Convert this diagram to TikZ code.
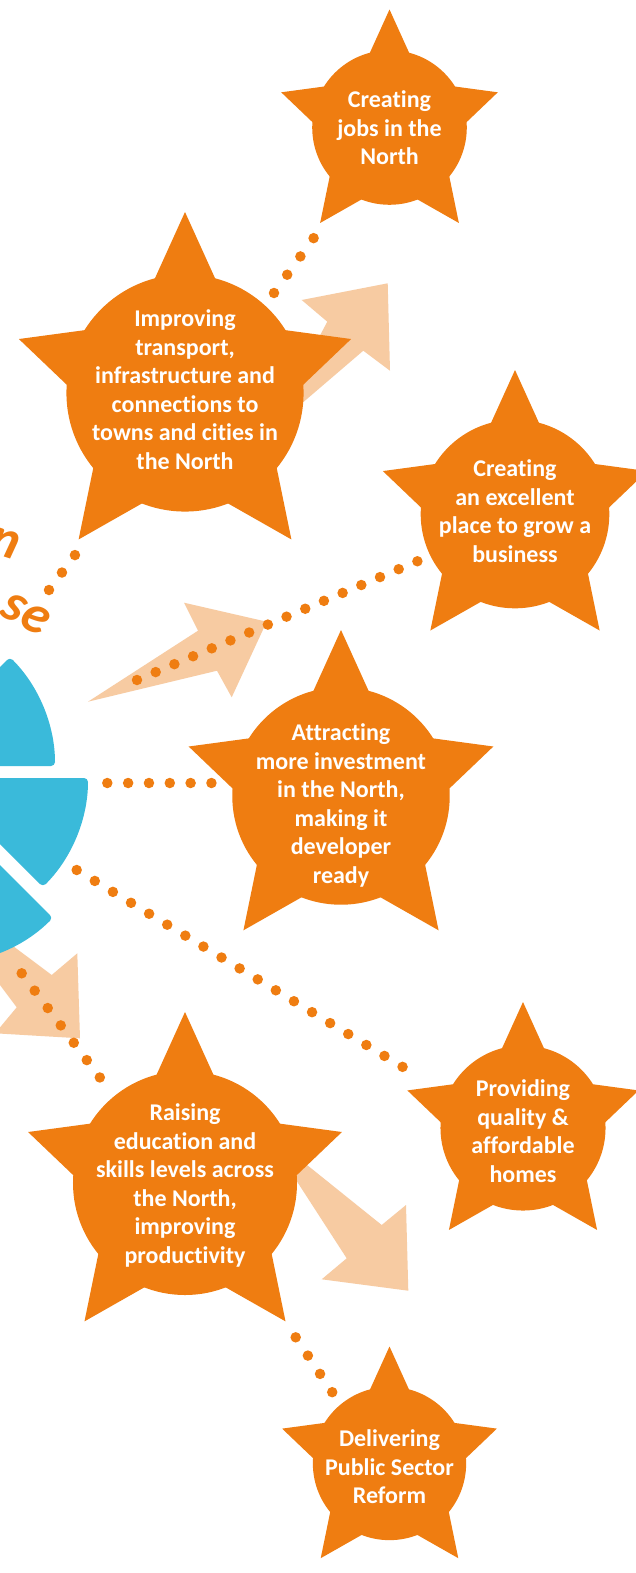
\documentclass[tikz,border=0pt]{standalone}
\usepackage{fontspec}
\setmainfont{Carlito}[Ligatures={NoCommon}]
\definecolor{orng}{HTML}{EF7D11}
\definecolor{skyb}{HTML}{3ABADA}
\definecolor{peach}{HTML}{F7CBA2}
\newcommand\orstar[3]{%
 \fill[orng] (#1,#2) circle[radius={0.655*#3}];
 \fill[orng,shift={(#1,#2)}] (270:#3) -- (306:{0.475*#3}) -- (342:{0.965*#3}) -- (18:{0.475*#3}) -- (54:#3) -- (90:{0.475*#3}) -- (126:#3) -- (162:{0.475*#3}) -- (198:{0.965*#3}) -- (234:{0.475*#3}) -- cycle;}
\begin{document}
\begin{tikzpicture}[x=1pt,y=-1pt,
 startext/.style={text=white, align=center, font=\bfseries\fontsize{24}{28.5}\selectfont, inner sep=0pt},
 titletext/.style={text=orng, font=\bfseries\itshape\fontsize{54}{54}\selectfont, inner sep=0pt},
 dotline/.style={draw=orng, line width=10.5pt, line cap=round, dash pattern=on 0pt off #1},
 arrowfill/.style={fill=peach},
 wedge/.style={fill=skyb, rounded corners=4pt}]
\useasboundingbox (0,0) rectangle (635,1573);
\fill[white] (0,0) rectangle (635,1573);
% peach arrows
\fill[arrowfill] (268.9,431.6) -- (327.3,321.7) -- (301.7,300) -- (387.7,283.3) -- (390,370.7) -- (363.3,350.7) -- cycle;
\fill[arrowfill] (88,701.7) -- (198,630.7) -- (184,602.7) -- (266.7,621.7) -- (231.7,697.3) -- (217,670.7) -- cycle;
\fill[arrowfill] (-83.6,873.6) -- (51.7,975) -- (77.3,953.3) -- (80,1038.3) -- (-4.9,1033.3) -- (16.7,1007.3) -- cycle;
\fill[arrowfill] (263.9,1130.3) -- (381.7,1225) -- (406,1205) -- (408.3,1290.7) -- (321.7,1279.3) -- (346.7,1258.3) -- cycle;
% blue wedges
\fill[wedge] (-99,766) -- (55,766) arc[start angle=0,end angle=-45,radius=154] -- cycle;
\fill[wedge] (-66,778) -- (88,778) arc[start angle=0,end angle=45,radius=154] -- cycle;
\fill[wedge] (-56,809) -- ++(45:154) arc[start angle=45,end angle=110,radius=154] -- cycle;
% stars
\orstar{389.5}{127.5}{118}
\orstar{185}{393}{181}
\orstar{515}{514}{144}
\orstar{341}{796}{166}
\orstar{523}{1128}{126}
\orstar{185}{1183}{171}
\orstar{389.5}{1463.5}{117}
\node[startext] (s1) at (389.5,127.8) {Creating\\jobs in the\\North};
\node[startext] (s2) at (185,389.7) {Improving\\transport,\\infrastructure and\\connections to\\towns and cities in\\the North};
\node[startext] (s3) at (515,511) {Creating\\an excellent\\place to grow a\\business};
\node[startext] (s4) at (341,805.5) {Attracting\\more investment\\in the North,\\making it\\developer\\ready};
\node[startext] (s5) at (523,1131) {Providing\\quality \&\\affordable\\homes};
\node[startext] (s6) at (185,1185.7) {Raising\\education and\\skills levels across\\the North,\\improving\\productivity};
\node[startext] (s7) at (389.5,1467) {Delivering\\Public Sector\\Reform};
% title fragments
\node[titletext, rotate=-18] (tn) at (5,543) {n};
\node[titletext, rotate=-28] (tse) at (26,614) {se};
% dotted connectors
\coordinate (d1a) at (274,293); \coordinate (d1b) at (313.7,238);
\coordinate (d2a) at (49,590); \coordinate (d2b) at (75,555);
\coordinate (d3a) at (137,680); \coordinate (d3b) at (418,561);
\coordinate (d4a) at (107.3,783); \coordinate (d4b) at (211.7,783);
\coordinate (d5a) at (76.7,870); \coordinate (d5b) at (403.3,1067.3);
\coordinate (d6a) at (21.7,973.3); \coordinate (d6b) at (100,1077.7);
\coordinate (d7a) at (295.7,1337.3); \coordinate (d7b) at (332.3,1392.3);
\draw[dotline=22.55pt] (d1a) -- (d1b);
\draw[dotline=21.75pt] (d2a) -- (d2b);
\draw[dotline=20.3pt] (d3a) -- (d3b);
\draw[dotline=20.83pt] (d4a) -- (d4b);
\draw[dotline=21.15pt] (d5a) -- (d5b);
\draw[dotline=21.7pt] (d6a) -- (d6b);
\draw[dotline=21.97pt] (d7a) -- (d7b);
\end{tikzpicture}
\end{document}
